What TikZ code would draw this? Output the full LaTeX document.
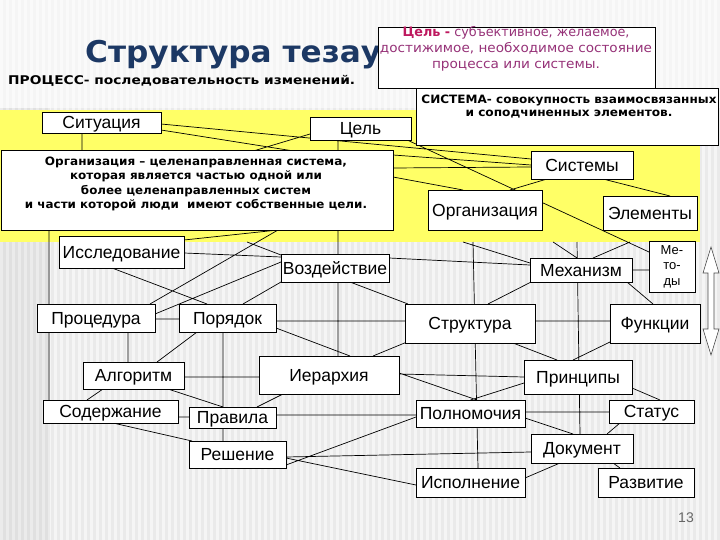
\documentclass[tikz,border=0pt]{standalone}
\usepackage{graphicx}
\usepackage{fontspec}
\setmainfont{Liberation Sans}
\newfontfamily\verd{DejaVu Sans}
\usetikzlibrary{calc}
\newcommand\fitx[2]{\resizebox{#1}{\height}{#2}}
\pgfdeclarelayer{back}
\pgfdeclarelayer{lines}
\pgfsetlayers{back,lines,main}
\definecolor{ylw}{RGB}{255,255,102}
\definecolor{bgray}{RGB}{234,234,234}
\definecolor{lgray}{RGB}{245,245,245}
\definecolor{titleblue}{RGB}{28,56,100}
\definecolor{celb}{RGB}{190,25,95}
\definecolor{celt}{RGB}{150,50,120}
\tikzset{
  bxbase/.style={draw=black, fill=white, line width=0.8pt, inner sep=0pt,
    font=\fontsize{17.5}{20}\selectfont},
  bx/.style={bxbase, text height=12.6pt, text depth=0pt},
  defbox/.style={draw=black, fill=white, line width=0.8pt, inner sep=0pt},
  ln/.style={draw=black, line width=0.7pt}
}
\begin{document}
\begin{tikzpicture}[x=1pt,y=-1pt]
\useasboundingbox (0,0) rectangle (720,540);
\begin{pgfonlayer}{back}
  \fill[bgray] (0,0) rectangle (720,540);
  \foreach \i in {0,6,...,714} \fill[lgray] (\i,0) rectangle (\i+3,540);
  \fill[white,opacity=0.55] (0,0) rectangle (720,108);
  \fill[black,opacity=0.04] (0,108) rectangle (50,540);
  \fill[ylw] (0,110) rectangle (700,242);
\end{pgfonlayer}

% boxes
\node[bx, minimum width=119pt, minimum height=21pt] (sit) at (101.5,122.5) {Ситуация};
\node[bx, minimum width=101pt, minimum height=23pt] (cel) at (360.5,128.5) {Цель};
\node[bx, minimum width=102pt, minimum height=28pt] (sys) at (582,165) {Системы};
\node[bx, minimum width=114pt, minimum height=40pt] (org) at (485,210) {Организация};
\node[bx, minimum width=94pt, minimum height=34pt] (elem) at (650,213) {Элементы};
\node[bx, minimum width=125pt, minimum height=32pt] (res) at (121.5,252) {Исследование};
\node[bx, minimum width=108pt, minimum height=28pt] (vozd) at (335,268) {Воздействие};
\node[bx, minimum width=102pt, minimum height=24pt] (mech) at (581,270) {Механизм};
\node[bxbase, minimum width=46pt, minimum height=51pt, align=center,
  font=\fontsize{13}{15.5}\selectfont] (met) at (672,266.5) {Ме-\\то-\\ды};
\node[bx, minimum width=118pt, minimum height=28pt] (proc) at (96,318) {Процедура};
\node[bx, minimum width=97pt, minimum height=28pt] (por) at (227.5,318) {Порядок};
\node[bx, minimum width=130pt, minimum height=39pt] (str) at (470,323.5) {Структура};
\node[bx, minimum width=90pt, minimum height=39pt] (func) at (655,323.5) {Функции};
\node[bx, minimum width=101pt, minimum height=27pt] (alg) at (133.5,375.5) {Алгоритм};
\node[bx, minimum width=140pt, minimum height=38pt] (ier) at (329,375) {Иерархия};
\node[bx, minimum width=108pt, minimum height=34pt] (prin) at (578,377) {Принципы};
\node[bx, minimum width=135pt, minimum height=23pt] (sod) at (110.5,411.5) {Содержание};
\node[bx, minimum width=87pt, minimum height=21pt] (prav) at (232.5,417.5) {Правила};
\node[bx, minimum width=97pt, minimum height=27pt] (resh) at (237.5,454.5) {Решение};
\node[bx, minimum width=109pt, minimum height=27pt] (poln) at (470.5,413.5) {Полномочия};
\node[bx, minimum width=85pt, minimum height=23pt] (stat) at (651.5,411.5) {Статус};
\node[bx, minimum width=102pt, minimum height=29pt] (dok) at (582,448.5) {Документ};
\node[bx, minimum width=109pt, minimum height=29pt] (isp) at (470.5,482.5) {Исполнение};
\node[bx, minimum width=96pt, minimum height=29pt] (razv) at (646,482.5) {Развитие};

% title and definitions
\node[anchor=base west, inner sep=0pt, text=titleblue,
  font=\verd\bfseries\fontsize{30}{36}\selectfont] (title) at (85,63)
  {\fitx{296pt}{Структура тезау}};
\node[anchor=base west, inner sep=0pt,
  font=\verd\bfseries\fontsize{12}{14}\selectfont] (procdef) at (8,85)
  {\fitx{347pt}{ПРОЦЕСС- последовательность изменений.}};
\node[defbox, minimum width=277pt, minimum height=61pt] (celdef) at (516.5,57.5) {};
\node[inner sep=0pt, align=center, text=celt,
  font=\verd\fontsize{13}{16}\selectfont] (celtx) at (516,49)
  {\fitx{227pt}{\textcolor{celb}{\bfseries Цель -} субъективное, желаемое,}\\
   \fitx{272pt}{достижимое, необходимое состояние}\\
   \fitx{168pt}{процесса или системы.}};
\node[defbox, minimum width=302pt, minimum height=57pt] (sysdef) at (567,116.5) {};
\node[inner sep=0pt, align=center,
  font=\verd\bfseries\fontsize{11.5}{13.5}\selectfont] (systx) at (569,106.5)
  {\fitx{295pt}{СИСТЕМА- совокупность взаимосвязанных}\\
   \fitx{207pt}{и соподчиненных элементов.}};
\node[defbox, minimum width=392pt, minimum height=80pt] (odef) at (197,190) {};
\node[inner sep=0pt, align=center,
  font=\verd\bfseries\fontsize{11.5}{14.5}\selectfont] (odeftx) at (196,184)
  {\fitx{302pt}{Организация – целенаправленная система,}\\
   \fitx{252pt}{которая является частью одной или}\\
   \fitx{230pt}{более целенаправленных систем}\\
   \fitx{342pt}{и части которой люди\ \ имеют собственные цели.}};
\node[inner sep=0pt, text=black!60, font=\fontsize{14}{16}\selectfont] (pnum) at (686,518) {13};

% double arrow
\draw[fill=white, draw=black!70, line width=0.6pt]
  (711,247) -- (719,273) -- (714,273) -- (714,329) -- (719,329) -- (711,355)
  -- (703,329) -- (708,329) -- (708,273) -- (703,273) -- cycle;

\coordinate (y1) at (247,242);
\coordinate (y2) at (463,242);
\coordinate (y3) at (473,242);
\coordinate (y4) at (577,242);
\coordinate (y5) at (553,242);
\coordinate (y6) at (630,242);

\begin{pgfonlayer}{lines}
\path[ln]
  % upper part
  ($(sit.center)+(59.5,1.5)$) -- ($(sys.center)+(-51,-6)$)
  ($(sit.center)+(59.5,7.5)$) -- ($(odef.center)+(103,-38)$)
  ($(sit.center)+(-19.5,10.5)$) -- ($(odef.center)+(-115,-38)$)
  ($(odef.center)+(43,-35)$) -- ($(cel.center)+(-50.5,5.5)$)
  ($(cel.center)+(-22.5,11.5)$) -- ($(ier.center)+(9,-19)$)
  ($(cel.center)+(44.5,10.5)$) -- ($(met.center)+(-23,-14.5)$)
  ($(odef.center)+(196,-35)$) -- ($(sys.center)+(-51,0)$)
  ($(odef.center)+(196,-22)$) -- ($(sys.center)+(-51,2)$)
  ($(odef.center)+(196,-13)$) -- ($(org.center)+(-22,-20)$)
  ($(sys.center)+(-35,14)$) -- ($(org.center)+(25,-20)$)
  ($(sys.center)+(21,14)$) -- ($(elem.center)+(20,-17)$)
  % lower part
  ($(odef.center)+(-148,40)$) -- ($(sod.center)+(-61.5,-11.5)$)
  ($(res.center)+(62.5,-12)$) -- ($(odef.center)+(81,40)$)
  ($(proc.center)+(54,-14)$) -- ($(odef.center)+(81,40)$)
  ($(res.center)+(62.5,1)$) -- ($(vozd.center)+(-54,-11)$)
  (y1) -- ($(vozd.center)+(-54,-13)$)
  ($(proc.center)+(59,-4)$) -- ($(vozd.center)+(-54,-6)$)
  ($(proc.center)+(59,1)$) -- ($(por.center)+(-48.5,1)$)
  ($(res.center)+(-9.5,16)$) -- ($(por.center)+(-20.5,-14)$)
  ($(vozd.center)+(-54,14)$) -- ($(por.center)+(15.5,-14)$)
  ($(por.center)+(-30.5,14)$) -- ($(alg.center)+(23.5,-13.5)$)
  ($(proc.center)+(32,14)$) -- ($(alg.center)+(-5.5,-13.5)$)
  ($(por.center)+(48.5,3)$) -- ($(str.center)+(-65,-2.5)$)
  ($(por.center)+(48.5,10)$) -- ($(ier.center)+(21,-19)$)
  ($(por.center)+(-4.5,14)$) -- ($(resh.center)+(-14.5,-13.5)$)
  ($(alg.center)+(50.5,1.5)$) -- ($(ier.center)+(-70,2)$)
  ($(alg.center)+(-30.5,13.5)$) -- ($(sod.center)+(-23.5,-11.5)$)
  ($(alg.center)+(34.5,13.5)$) -- ($(prav.center)+(-9.5,-10.5)$)
  ($(ier.center)+(-46,19)$) -- ($(prav.center)+(24.5,-10.5)$)
  ($(vozd.center)+(15,14)$) -- ($(str.center)+(-62,-19.5)$)
  ($(vozd.center)+(54,-10)$) -- ($(mech.center)+(-51,-5)$)
  (y2) -- ($(mech.center)+(-51,-7)$)
  (y3) -- ($(isp.center)+(7.5,-14.5)$)
  (y4) -- ($(dok.center)+(-2,-14.5)$)
  (y5) -- ($(mech.center)+(-4,-12)$)
  ($(mech.center)+(12,-12)$) -- (y6)
  ($(mech.center)+(51,0)$) -- ($(met.center)+(-23,3.5)$)
  ($(str.center)+(18,-19.5)$) -- ($(mech.center)+(-46,10)$)
  ($(mech.center)+(46,12)$) -- ($(func.center)+(-2,-19.5)$)
  ($(str.center)+(65,-2.5)$) -- ($(func.center)+(-45,-2.5)$)
  ($(str.center)+(-63,18.5)$) -- ($(ier.center)+(44,-19)$)
  ($(str.center)+(43,19.5)$) -- ($(prin.center)+(-21,-17)$)
  ($(func.center)+(-45,18.5)$) -- ($(prin.center)+(-5,-17)$)
  ($(ier.center)+(70,-1)$) -- ($(prin.center)+(-54,0)$)
  ($(ier.center)+(70,-2)$) -- ($(poln.center)+(6.5,-13.5)$)
  ($(prin.center)+(-54,6)$) -- ($(poln.center)+(0,-13.5)$)
  ($(prin.center)+(54,11)$) -- ($(stat.center)+(8.5,-11.5)$)
  ($(poln.center)+(54.5,-1.5)$) -- ($(stat.center)+(-42.5,0.5)$)
  ($(stat.center)+(-31.5,11.5)$) -- ($(dok.center)+(25,-14.5)$)
  ($(poln.center)+(54.5,4.5)$) -- ($(dok.center)+(-9,-14.5)$)
  ($(prav.center)+(43.5,-2.5)$) -- ($(poln.center)+(-54.5,1.5)$)
  ($(resh.center)+(48.5,10.5)$) -- ($(poln.center)+(-54.5,3.5)$)
  ($(resh.center)+(48.5,2.5)$) -- ($(dok.center)+(-51,3.5)$)
  ($(resh.center)+(48.5,3.5)$) -- ($(isp.center)+(-54.5,2.5)$)
  ($(sod.center)+(67.5,5.5)$) -- ($(prav.center)+(-43.5,-0.5)$)
  ($(sod.center)+(2.5,11.5)$) -- ($(resh.center)+(-45.5,-13.5)$)
  ($(dok.center)+(-22,14.5)$) -- ($(isp.center)+(54.5,-4.5)$)
  ($(dok.center)+(31,14.5)$) -- ($(razv.center)+(-26,-14.5)$);
\end{pgfonlayer}
\end{tikzpicture}
\end{document}
